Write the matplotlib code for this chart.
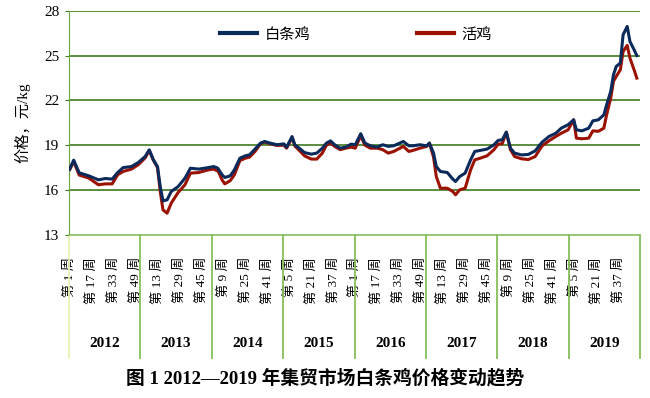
import matplotlib
matplotlib.use("Agg")
import matplotlib.pyplot as plt
import matplotlib.transforms as mtransforms

# fonts: serif digits, CJK fallback
plt.rcParams['font.family'] = ['Liberation Serif', 'Noto Sans CJK SC']
plt.rcParams['axes.unicode_minus'] = False

# week index (0 = 2012 week 1)
weeks = [0, 3, 7, 14, 21, 26, 31, 35, 39, 45, 50, 55, 58, 61, 64, 66, 68, 71, 74, 79,
         84, 88, 94, 101, 105, 107, 108, 111, 113, 117, 120, 124, 128, 131, 135, 139, 142, 146, 151, 156,
         158, 162, 164, 168, 171, 176, 180, 184, 187, 190, 193, 197, 201, 205, 208, 212, 215, 219, 224, 228,
         232, 236, 243, 247, 250, 255, 260, 262, 265, 267, 270, 275, 279, 281, 284, 288, 292, 295, 299, 304,
         309, 312, 315, 318, 321, 324, 329, 334, 339, 344, 349, 354, 358, 363, 367, 369, 373, 378, 381, 385,
         389, 391, 394, 396, 398, 401, 403, 406, 408, 411, 413]

white_broiler = [17.4, 18.0, 17.15, 16.95, 16.68, 16.77, 16.73, 17.17, 17.5, 17.57, 17.84, 18.24, 18.69, 18.02, 17.57, 16.23, 15.27, 15.34, 15.9, 16.23,
                 16.79, 17.46, 17.4, 17.5, 17.57, 17.5, 17.45, 17.02, 16.84, 16.95, 17.35, 18.13, 18.29, 18.35, 18.74, 19.14, 19.25, 19.14, 19.03, 19.09,
                 18.87, 19.58, 19.03, 18.74, 18.51, 18.4, 18.47, 18.8, 19.14, 19.29, 19.03, 18.8, 18.87, 19.07, 19.03, 19.77, 19.14, 18.96, 18.87, 19.03,
                 18.92, 18.96, 19.25, 18.96, 18.96, 19.03, 18.96, 19.14, 18.47, 17.57, 17.24, 17.17, 16.73, 16.57, 16.9, 17.13, 18.02, 18.58, 18.65, 18.74,
                 19.03, 19.32, 19.36, 19.87, 18.8, 18.47, 18.35, 18.38, 18.62, 19.2, 19.58, 19.8, 20.14, 20.37, 20.7, 20.03, 19.96, 20.14, 20.63, 20.7,
                 21.03, 21.7, 22.6, 23.71, 24.27, 24.5, 26.39, 26.95, 25.94, 25.39, 25.0]

live_chicken = [17.35, 17.9, 17.0, 16.8, 16.35, 16.41, 16.41, 17.02, 17.24, 17.4, 17.69, 18.15, 18.65, 18.0, 17.5, 15.9, 14.67, 14.45, 15.12, 15.83,
                16.35, 17.13, 17.17, 17.35, 17.4, 17.3, 17.3, 16.68, 16.41, 16.63, 17.02, 17.97, 18.13, 18.2, 18.58, 19.1, 19.2, 19.1, 18.98, 19.0,
                18.8, 19.5, 18.95, 18.58, 18.29, 18.07, 18.07, 18.47, 19.0, 19.14, 18.92, 18.7, 18.8, 18.87, 18.8, 19.64, 19.0, 18.8, 18.8, 18.7,
                18.47, 18.58, 18.92, 18.58, 18.65, 18.8, 18.92, 19.14, 18.2, 16.9, 16.12, 16.12, 15.9, 15.68, 16.01, 16.12, 17.35, 18.02, 18.13, 18.29,
                18.7, 19.07, 19.1, 19.87, 18.7, 18.24, 18.09, 18.04, 18.24, 18.95, 19.29, 19.58, 19.8, 20.03, 20.7, 19.47, 19.43, 19.47, 19.96, 19.93,
                20.14, 21.03, 22.15, 23.27, 23.6, 24.05, 25.27, 25.68, 24.83, 24.05, 23.49]

years = ['2012', '2013', '2014', '2015', '2016', '2017', '2018', '2019']
week_labels = ['第 1 周', '第 17 周', '第 33 周', '第 49 周',
               '第 13 周', '第 29 周', '第 45 周',
               '第 9 周', '第 25 周', '第 41 周',
               '第 5 周', '第 21 周', '第 37 周',
               '第 1 周', '第 17 周', '第 33 周', '第 49 周',
               '第 13 周', '第 29 周', '第 45 周',
               '第 9 周', '第 25 周', '第 41 周',
               '第 5 周', '第 21 周', '第 37 周']
yticks = [13, 16, 19, 22, 25, 28]

weeks_per_year = 52
n_weeks = weeks_per_year * len(years)

fig = plt.figure(figsize=(6.5, 3.98), dpi=100)
ax = fig.add_axes([0.106, 0.410, 0.879, 0.563])

grid_green = '#3d7a1c'
sep_green = '#86bf5a'

for y in yticks[1:]:
    ax.axhline(y, color=grid_green, lw=1.2, zorder=1)

ax.plot(weeks, white_broiler, color='#0b2a5c', lw=2.2, label='白条鸡', zorder=3)
ax.plot(weeks, live_chicken, color='#9b1203', lw=2.2, label='活鸡', zorder=2)

ax.set_xlim(-0.5, n_weeks - 0.5)
ax.set_ylim(13, 28)
ax.set_yticks(yticks)
ax.set_yticklabels([str(v) for v in yticks], fontsize=11)
ax.tick_params(axis='y', length=3, color=grid_green, pad=4)

for s in ['top', 'right']:
    ax.spines[s].set_visible(False)
ax.spines['left'].set_color('#6aa53a')
ax.spines['bottom'].set_color(sep_green)
ax.spines['bottom'].set_linewidth(1.2)

ax.set_xticks(range(0, n_weeks, 16)[:len(week_labels)])
ax.set_xticklabels(week_labels, rotation=90, fontsize=9.5, va='top', ha='center')
ax.tick_params(axis='x', length=0, pad=16)

# year separators and year names below the axis
trans = mtransforms.blended_transform_factory(ax.transData, ax.transAxes)
for i in range(len(years) + 1):
    xb = i * weeks_per_year - 0.5
    c = '#e6f2b8' if i == 0 else sep_green
    ax.plot([xb, xb], [0, -0.55], color=c, lw=1.3, transform=trans, clip_on=False)
for i, yr in enumerate(years):
    ax.text(i * weeks_per_year + weeks_per_year / 2 - 0.5, -0.485, yr, transform=trans,
            ha='center', va='center', fontsize=11, fontweight='bold')

ax.set_ylabel('价格，元/kg', fontsize=11, labelpad=10)

leg = ax.legend(loc='center', bbox_to_anchor=(0.503, 0.893), ncol=2, frameon=False,
                fontsize=11, handlelength=2.4, handletextpad=0.5, columnspacing=7.0)
for h in leg.get_lines():
    h.set_linewidth(3)

fig.text(0.5, 0.05, '图 1 2012—2019 年集贸市场白条鸡价格变动趋势', ha='center', va='center',
         fontsize=13.5, fontweight='bold')

fig.savefig('out.png', dpi=100)
